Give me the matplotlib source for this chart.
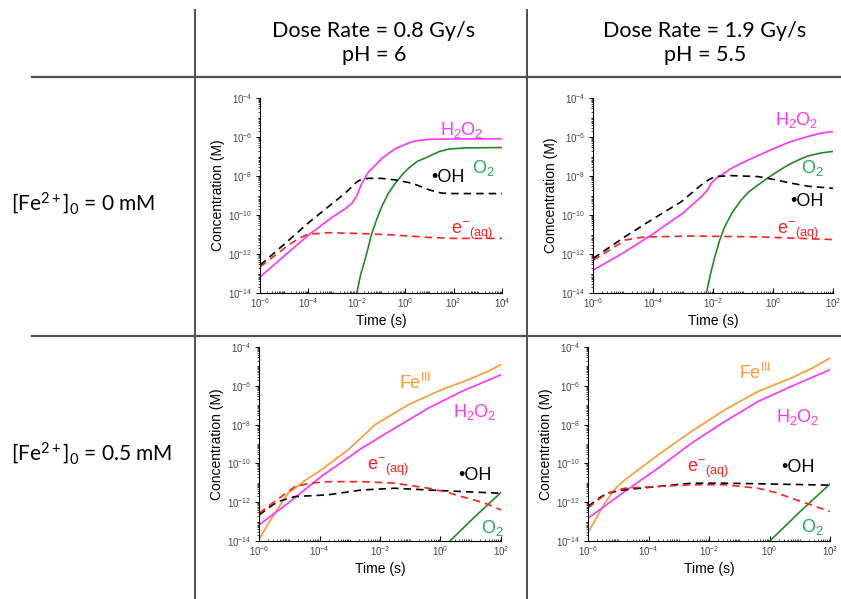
import numpy as np
import matplotlib
matplotlib.use("Agg")
import matplotlib.pyplot as plt
from matplotlib.lines import Line2D
from matplotlib.ticker import LogLocator, LogFormatterSciNotation, NullFormatter

plt.rcParams['font.family'] = ['Liberation Sans', 'DejaVu Sans']
plt.rcParams['mathtext.fontset'] = 'custom'
plt.rcParams['mathtext.rm'] = 'Liberation Sans'
plt.rcParams['mathtext.it'] = 'Liberation Sans:italic'
plt.rcParams['mathtext.bf'] = 'Liberation Sans:bold'
plt.rcParams['mathtext.default'] = 'regular'

# column / row headers
col_headers = ["Dose Rate = 0.8 Gy/s\npH = 6", "Dose Rate = 1.9 Gy/s\npH = 5.5"]
row_headers = [r"[Fe$^{2+}$]$_0$ = 0 mM", r"[Fe$^{2+}$]$_0$ = 0.5 mM"]
ylabels = ["Concentration (M)", "Comcentration (M)", "Concentration (M)", "Concentration (M)"]
xmax_exp = [4, 2, 2, 2]

# log10(time), log10(concentration)
# panel 1: 0 mM, 0.8 Gy/s
p1_h2o2_t = [-6, -5, -4, -3, -2.5, -2.2, -2.0, -1.8, -1.52, -1.2, -0.97, -0.7, -0.41, 0, 0.28, 0.6, 0.97, 2, 4]
p1_h2o2_c = [-13.18, -12.1, -11.03, -10.1, -9.7, -9.4, -9.0, -8.4, -7.8, -7.4, -7.1, -6.85, -6.6, -6.38, -6.24, -6.17, -6.12, -6.1, -6.09]
p1_oh_t = [-6, -5, -4, -3.17, -2.5, -2.2, -2.0, -1.8, -1.5, -1, -0.41, 0, 0.28, 0.6, 0.97, 1.3, 1.52, 2, 4]
p1_oh_c = [-12.58, -11.5, -10.4, -9.57, -8.9, -8.55, -8.3, -8.17, -8.12, -8.12, -8.2, -8.3, -8.37, -8.52, -8.7, -8.82, -8.88, -8.9, -8.9]
p1_e_t = [-6, -5.3, -4.83, -4.4, -4, -3.17, -1.8, -0.41, 0.97, 2, 4]
p1_e_c = [-12.66, -12.0, -11.55, -11.2, -10.98, -10.91, -10.95, -11.03, -11.15, -11.2, -11.2]
p1_o2_t = [-2.0, -1.85, -1.66, -1.38, -1.2, -0.97, -0.7, -0.41, -0.1, 0.14, 0.5, 0.97, 1.4, 1.79, 2.5, 4]
p1_o2_c = [-14.0, -13.1, -12.3, -10.95, -10.3, -9.57, -8.9, -8.37, -7.9, -7.6, -7.25, -7.0, -6.75, -6.62, -6.56, -6.54]

# panel 2: 0 mM, 1.9 Gy/s
p2_h2o2_t = [-6, -5, -4.06, -3, -2.39, -2.2, -2.06, -1.9, -1.72, -1.4, -1.06, -0.5, 0.06, 0.6, 1.17, 1.6, 2]
p2_h2o2_c = [-12.83, -11.95, -11.03, -9.9, -9.06, -8.75, -8.37, -8.12, -7.95, -7.62, -7.35, -6.95, -6.57, -6.23, -5.97, -5.8, -5.72]
p2_oh_t = [-6, -4.94, -4.06, -3.06, -2.39, -2.15, -1.94, -1.39, -0.5, 0, 0.61, 1.2, 2]
p2_oh_c = [-12.23, -11.12, -10.26, -9.32, -8.46, -8.2, -8.03, -7.98, -8.03, -8.17, -8.37, -8.53, -8.63]
p2_e_t = [-6, -5.4, -4.94, -4.4, -4.06, -2.72, -0.5, 2]
p2_e_c = [-12.32, -11.75, -11.29, -11.15, -11.12, -11.08, -11.12, -11.26]
p2_o2_t = [-2.22, -2.08, -1.94, -1.78, -1.61, -1.35, -1.06, -0.8, -0.5, -0.2, 0.06, 0.35, 0.61, 0.9, 1.17, 1.6, 2]
p2_o2_c = [-14.0, -13.0, -12.15, -11.3, -10.6, -9.85, -9.23, -8.8, -8.46, -8.13, -7.86, -7.58, -7.35, -7.14, -6.97, -6.82, -6.74]

# panel 3: 0.5 mM, 0.8 Gy/s
p3_fe_t = [-6, -5.48, -5.04, -4.5, -3.94, -3.05, -2.17, -1.07, 0.04, 0.92, 1.5, 2]
p3_fe_c = [-13.91, -12.57, -11.54, -10.9, -10.33, -9.3, -8.01, -6.98, -6.2, -5.69, -5.3, -4.91]
p3_h2o2_t = [-6, -5.04, -3.94, -2.61, -1.51, -0.4, 0.7, 2]
p3_h2o2_c = [-13.17, -12.05, -10.67, -9.22, -8.18, -7.15, -6.29, -5.43]
p3_e_t = [-6, -5.6, -5.26, -4.82, -4.3, -3.72, -2.61, -1.51, -0.4, 0.2, 0.7, 1.1, 1.47, 2]
p3_e_c = [-12.57, -12.1, -11.71, -11.2, -11.02, -10.94, -10.94, -11.02, -11.28, -11.48, -11.71, -11.88, -12.05, -12.4]
p3_oh_t = [-6, -5.6, -5.37, -4.82, -3.72, -2.61, -1.51, -0.4, 0.7, 2]
p3_oh_c = [-12.66, -12.2, -11.97, -11.71, -11.62, -11.37, -11.28, -11.37, -11.45, -11.54]
p3_o2_t = [0.31, 1.1, 2]
p3_o2_c = [-14.0, -12.8, -11.5]

# panel 4: 0.5 mM, 1.9 Gy/s
p4_fe_t = [-6, -5.45, -5.1, -4.79, -3.69, -2.58, -1.48, -0.38, 0.72, 1.4, 2]
p4_fe_c = [-13.57, -12.06, -11.3, -10.86, -9.57, -8.35, -7.24, -6.29, -5.6, -5.1, -4.57]
p4_h2o2_t = [-6, -4.79, -3.69, -2.58, -1.48, -0.38, 0.72, 2]
p4_h2o2_c = [-12.83, -11.45, -10.25, -8.96, -7.84, -6.81, -6.03, -5.17]
p4_e_t = [-6, -5.6, -5.34, -4.79, -3.69, -2.58, -1.48, -0.38, 0.2, 0.72, 1.3, 2]
p4_e_c = [-12.3, -11.8, -11.53, -11.28, -11.19, -11.1, -11.1, -11.28, -11.5, -11.79, -12.1, -12.48]
p4_oh_t = [-6, -5.6, -5.34, -4.79, -3.69, -2.58, -1.48, -0.38, 2]
p4_oh_c = [-12.22, -11.75, -11.53, -11.36, -11.19, -11.02, -11.02, -11.05, -11.12]
p4_o2_t = [0.01, 1.0, 2]
p4_o2_c = [-14.0, -12.5, -11.06]

c_h2o2 = '#ff33ff'
c_o2 = '#228b22'
c_o2_txt = '#1faa55'
c_fe = '#ff9a2e'
c_e = '#ff2020'
c_oh = 'black'

fig = plt.figure(figsize=(8.41, 5.99), dpi=100)
W, H = 841, 599

def fx(px):
    return px / W

def fy(py):
    return 1 - py / H

# table lines
line_c = '#505050'
for x in [195, 527]:
    fig.add_artist(Line2D([fx(x), fx(x)], [fy(10), fy(599)], color=line_c, lw=1.4))
for y in [77, 336]:
    fig.add_artist(Line2D([fx(32), fx(841)], [fy(y), fy(y)], color=line_c, lw=1.6))

for i, txt in enumerate(col_headers):
    fig.text(fx([374, 705][i]), fy(43), txt, ha='center', va='center', fontsize=15.5,
             family=['Lato', 'DejaVu Sans'], linespacing=1.25)

for i, txt in enumerate(row_headers):
    fig.text(fx(11), fy([203, 453][i]), txt, ha='left', va='center', fontsize=15,
             family=['Lato', 'DejaVu Sans'])

# axes boxes in pixels: left, top, right, bottom
boxes = [(260, 98, 502, 293), (593, 98, 833, 293), (259, 347, 501, 541), (588, 347, 830, 541)]
axes = []
for k, (l, t, r, b) in enumerate(boxes):
    ax = fig.add_axes([fx(l), fy(b), (r - l) / W, (b - t) / H])
    ax.set_xscale('log')
    ax.set_yscale('log')
    ax.set_xlim(1e-6, 10.0 ** xmax_exp[k])
    ax.set_ylim(1e-14, 1e-4)
    ax.spines['top'].set_visible(False)
    ax.spines['right'].set_visible(False)
    for s in ['left', 'bottom']:
        ax.spines[s].set_linewidth(0.8)
    ax.xaxis.set_major_locator(LogLocator(base=100))
    ax.yaxis.set_major_locator(LogLocator(base=100))
    ax.xaxis.set_minor_locator(LogLocator(base=10, subs=np.arange(1, 10), numticks=30))
    ax.yaxis.set_minor_locator(LogLocator(base=10, subs=np.arange(1, 10), numticks=30))
    ax.xaxis.set_minor_formatter(NullFormatter())
    ax.yaxis.set_minor_formatter(NullFormatter())
    ax.xaxis.set_major_formatter(LogFormatterSciNotation())
    ax.yaxis.set_major_formatter(LogFormatterSciNotation())
    ax.tick_params(axis='x', which='major', direction='in', length=3.5, width=0.7)
    ax.tick_params(axis='y', which='major', direction='out', length=3, width=0.7)
    ax.tick_params(axis='x', which='minor', direction='in', length=1.8, width=0.5)
    ax.tick_params(axis='y', which='minor', direction='out', length=1.5, width=0.5)
    ax.tick_params(which='major', labelsize=7, labelcolor='#444444', pad=2.5)
    ax.set_ylabel(ylabels[k], fontsize=10, labelpad=2)
    ax.set_xlabel("Time (s)", fontsize=10, labelpad=3)
    axes.append(ax)

def curve(ax, t, c, color, dashed=False):
    t = 10.0 ** np.array(t)
    c = 10.0 ** np.array(c)
    if dashed:
        ax.plot(t, c, color=color, lw=1.2, dashes=(4.5, 3))
    else:
        ax.plot(t, c, color=color, lw=1.2)

ax1, ax2, ax3, ax4 = axes
curve(ax1, p1_h2o2_t, p1_h2o2_c, c_h2o2)
curve(ax1, p1_o2_t, p1_o2_c, c_o2)
curve(ax1, p1_oh_t, p1_oh_c, c_oh, True)
curve(ax1, p1_e_t, p1_e_c, c_e, True)

curve(ax2, p2_h2o2_t, p2_h2o2_c, c_h2o2)
curve(ax2, p2_o2_t, p2_o2_c, c_o2)
curve(ax2, p2_oh_t, p2_oh_c, c_oh, True)
curve(ax2, p2_e_t, p2_e_c, c_e, True)

curve(ax3, p3_fe_t, p3_fe_c, c_fe)
curve(ax3, p3_h2o2_t, p3_h2o2_c, c_h2o2)
curve(ax3, p3_o2_t, p3_o2_c, c_o2)
curve(ax3, p3_oh_t, p3_oh_c, c_oh, True)
curve(ax3, p3_e_t, p3_e_c, c_e, True)

curve(ax4, p4_fe_t, p4_fe_c, c_fe)
curve(ax4, p4_h2o2_t, p4_h2o2_c, c_h2o2)
curve(ax4, p4_o2_t, p4_o2_c, c_o2)
curve(ax4, p4_oh_t, p4_oh_c, c_oh, True)
curve(ax4, p4_e_t, p4_e_c, c_e, True)

lab_h2o2 = r"H$_2$O$_2$"
lab_o2 = r"O$_2$"
lab_oh = "\u2022OH"
lab_e = r"e$^{-}$$_{(aq)}$"
lab_fe = r"Fe$^{III}$"

def label(ax, x, y, s, color):
    ax.text(10.0 ** x, 10.0 ** y, s, color=color, fontsize=13, ha='center', va='center')

label(ax1, 2.35, -5.64, lab_h2o2, c_h2o2)
label(ax1, 3.21, -7.59, lab_o2, c_o2_txt)
label(ax1, 1.77, -8.1, lab_oh, 'black')
label(ax1, 2.76, -10.87, lab_e, c_e)

label(ax2, 0.8, -5.13, lab_h2o2, c_h2o2)
label(ax2, 1.3, -7.59, lab_o2, c_o2_txt)
label(ax2, 1.13, -9.33, lab_oh, 'black')
label(ax2, 0.83, -10.87, lab_e, c_e)

label(ax3, -0.84, -5.86, lab_fe, c_fe)
label(ax3, 1.14, -7.35, lab_h2o2, c_h2o2)
label(ax3, -1.74, -10.24, lab_e, c_e)
label(ax3, 1.14, -10.6, lab_oh, 'black')
label(ax3, 1.7, -13.33, lab_o2, c_o2_txt)

label(ax4, -0.48, -5.34, lab_fe, c_fe)
label(ax4, 0.94, -7.6, lab_h2o2, c_h2o2)
label(ax4, -2.03, -10.33, lab_e, c_e)
label(ax4, 0.94, -10.23, lab_oh, 'black')
label(ax4, 1.4, -13.28, lab_o2, c_o2_txt)

fig.savefig("out.png", dpi=100)
